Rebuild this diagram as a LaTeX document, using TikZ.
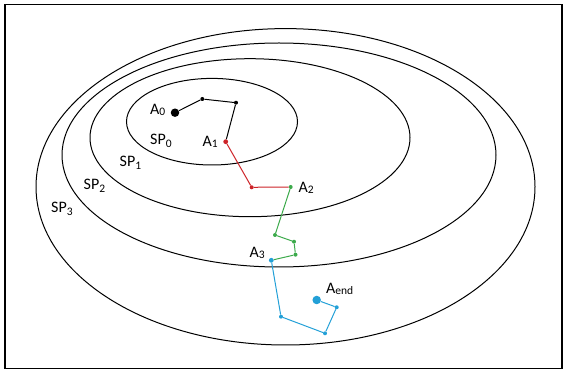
\documentclass[tikz,border=0pt]{standalone}
\usepackage{fontspec}
\setmainfont{Carlito}
\definecolor{pathred}{RGB}{205,35,40}
\definecolor{pathgreen}{RGB}{60,170,75}
\definecolor{pathblue}{RGB}{35,160,215}
\newcommand\lbsub[1]{\raisebox{-0.8pt}{\fontsize{11.5}{11.5}\selectfont #1}}
\newcommand\spsub[1]{\raisebox{-3pt}{\fontsize{11.5}{11.5}\selectfont #1}}
\tikzset{
  zone/.style={draw=black, line width=1pt},
  lbl/.style={anchor=base west, inner sep=0pt, font=\fontsize{16}{17}\selectfont},
  sdot/.style={circle, fill=#1, inner sep=0pt, minimum size=4pt},
  bdot/.style={circle, fill=#1, inner sep=0pt, minimum size=8.5pt},
  seg/.style={draw=#1, line width=1pt}
}
\begin{document}
\begin{tikzpicture}[x=1pt,y=-1pt]
\useasboundingbox (0,0) rectangle (565,371);
\draw[line width=1.8pt] (5,4.5) rectangle (562,368.5);
% zones
\draw[zone] (212,121.7) ellipse [x radius=85.5pt, y radius=43.3pt];
\draw[zone] (250,137.7) ellipse [x radius=160pt, y radius=79pt];
\draw[zone] (279,155) ellipse [x radius=217pt, y radius=112pt];
\draw[zone] (285.5,186.8) ellipse [x radius=249.5pt, y radius=158.2pt];
% labels
\node[lbl] (tsp0) at (150,145) {SP\spsub{0}};
\node[lbl] (tsp1) at (119.5,166.8) {SP\spsub{1}};
\node[lbl] (tsp2) at (83.5,189.6) {SP\spsub{2}};
\node[lbl] (tsp3) at (51,213) {SP\spsub{3}};
\node[lbl] (ta0) at (150,115) {A\lbsub{0}};
\node[lbl] (ta1) at (202.5,146.7) {A\lbsub{1}};
\node[lbl] (ta2) at (298.5,193) {A\lbsub{2}};
\node[lbl] (ta3) at (249.5,258) {A\lbsub{3}};
\node[lbl] (taend) at (326,294) {A\lbsub{end}};
% points
\node[bdot=black] (a0) at (175,112.7) {};
\node[sdot=black] (p1) at (202.3,99) {};
\node[sdot=black] (p2) at (236,102.7) {};
\node[sdot=pathred, minimum size=4.8pt] (a1) at (225.7,141.7) {};
\node[sdot=pathred] (r1) at (251.7,187.3) {};
\node[sdot=pathgreen] (a2) at (290.7,187) {};
\node[sdot=pathgreen] (g1) at (275,235) {};
\node[sdot=pathgreen] (g2) at (294,241.7) {};
\node[sdot=pathgreen] (g3) at (295.5,254.7) {};
\node[sdot=pathblue, minimum size=4.8pt] (a3) at (271.3,260.3) {};
\node[sdot=pathblue] (b1) at (281,316.7) {};
\node[sdot=pathblue] (b2) at (325,333.3) {};
\node[sdot=pathblue] (b3) at (336.7,307.3) {};
\node[bdot=pathblue] (aend) at (316.7,300) {};
% path segments
\draw[seg=black] (a0) -- (p1) -- (p2) -- (a1);
\draw[seg=pathred] (a1) -- (r1) -- (a2);
\draw[seg=pathgreen] (a2) -- (g1) -- (g2) -- (g3) -- (a3);
\draw[seg=pathblue] (a3) -- (b1) -- (b2) -- (b3) -- (aend);
\end{tikzpicture}
\end{document}
